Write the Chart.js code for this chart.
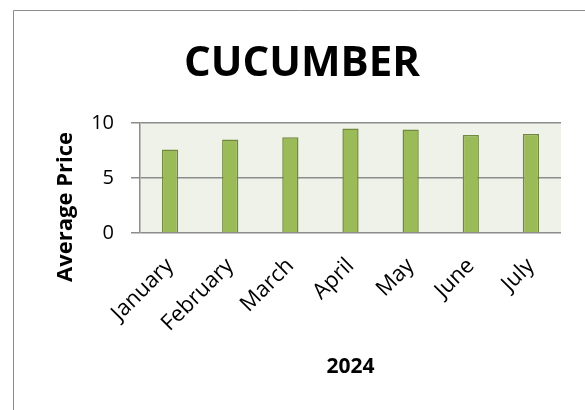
<!DOCTYPE html>
<html>
<head>
<meta charset="utf-8">
<script src="https://cdn.jsdelivr.net/npm/chart.js@4/dist/chart.umd.min.js"></script>
<style>
  html, body { margin: 0; padding: 0; background: #fff; }
  #wrap { width: 585px; height: 410px; }
</style>
</head>
<body>
<div id="wrap"><canvas id="priceChart" width="585" height="410"></canvas></div>
<script>
// Chart data
const months = ["January", "February", "March", "April", "May", "June", "July"];
const avgPrice = [7.6, 8.5, 8.7, 9.5, 9.4, 8.9, 9.0];
const yTicks = [0, 5, 10];
const chartTitle = "CUCUMBER";
const yTitle = "Average Price";

const FONT = "'Open Sans', 'Liberation Sans', sans-serif";

// Outer frame, plot background, big title and the y title
const framePlugin = {
    id: "frame",
    beforeDraw(c) {
        const ctx = c.ctx;
        const a = c.chartArea;
        ctx.save();
        ctx.fillStyle = "#fff";
        ctx.fillRect(0, 0, c.width, c.height);
        ctx.fillStyle = "#EFF2E8";
        ctx.fillRect(a.left, a.top, a.right - a.left, a.bottom - a.top);
        ctx.strokeStyle = "#8c8c8c";
        ctx.lineWidth = 1;
        ctx.beginPath();
        ctx.moveTo(13.5, 410);
        ctx.lineTo(13.5, 10.5);
        ctx.lineTo(585, 10.5);
        ctx.stroke();

        ctx.fillStyle = "#000";
        ctx.font = "bold 42px " + FONT;
        ctx.textAlign = "center";
        ctx.textBaseline = "alphabetic";
        ctx.fillText(chartTitle, 302, 76);

        // y title sits a bit lower than the axis middle, like the original
        ctx.translate(66, 207);
        ctx.rotate(-Math.PI / 2);
        ctx.font = "bold 22px " + FONT;
        ctx.textBaseline = "middle";
        ctx.fillText(yTitle, 0, 0);
        ctx.restore();
    }
};

const ctx = document.getElementById("priceChart").getContext("2d");
new Chart(ctx, {
    type: "bar",
    data: {
        labels: months,
        datasets: [{
            data: avgPrice,
            backgroundColor: "#9BBB59",
            borderColor: "#71893F",
            borderWidth: 1.5,
            categoryPercentage: 1,
            barPercentage: 0.27
        }]
    },
    options: {
        responsive: false,
        animation: false,
        devicePixelRatio: 1,
        layout: { padding: { left: 52, right: 24, top: 123, bottom: 20 } },
        plugins: {
            legend: { display: false },
            tooltip: { enabled: false },
            title: { display: false }
        },
        scales: {
            x: {
                grid: { display: false },
                border: { display: false },
                ticks: {
                    color: "#000",
                    font: { family: FONT, size: 22 },
                    maxRotation: 45,
                    minRotation: 45,
                    padding: 12
                },
                title: {
                    display: true,
                    text: "2024",
                    color: "#000",
                    font: { family: FONT, size: 21, weight: "bold" },
                    padding: { top: 0, bottom: 10 }
                },
                afterFit(s) { s.height = 157; }
            },
            y: {
                min: 0,
                max: 10,
                afterBuildTicks(s) { s.ticks = yTicks.map(v => ({ value: v })); },
                grid: {
                    color: "#8c8c8c",
                    lineWidth: 1.5,
                    tickLength: 9,
                    drawTicks: true
                },
                border: { display: true, color: "#8c8c8c", width: 1.5 },
                ticks: {
                    color: "#000",
                    font: { family: FONT, size: 20 },
                    padding: 17
                },
                title: { display: false },
                afterFit(s) { s.width = 88; }
            }
        }
    },
    plugins: [framePlugin]
});
</script>
</body>
</html>
